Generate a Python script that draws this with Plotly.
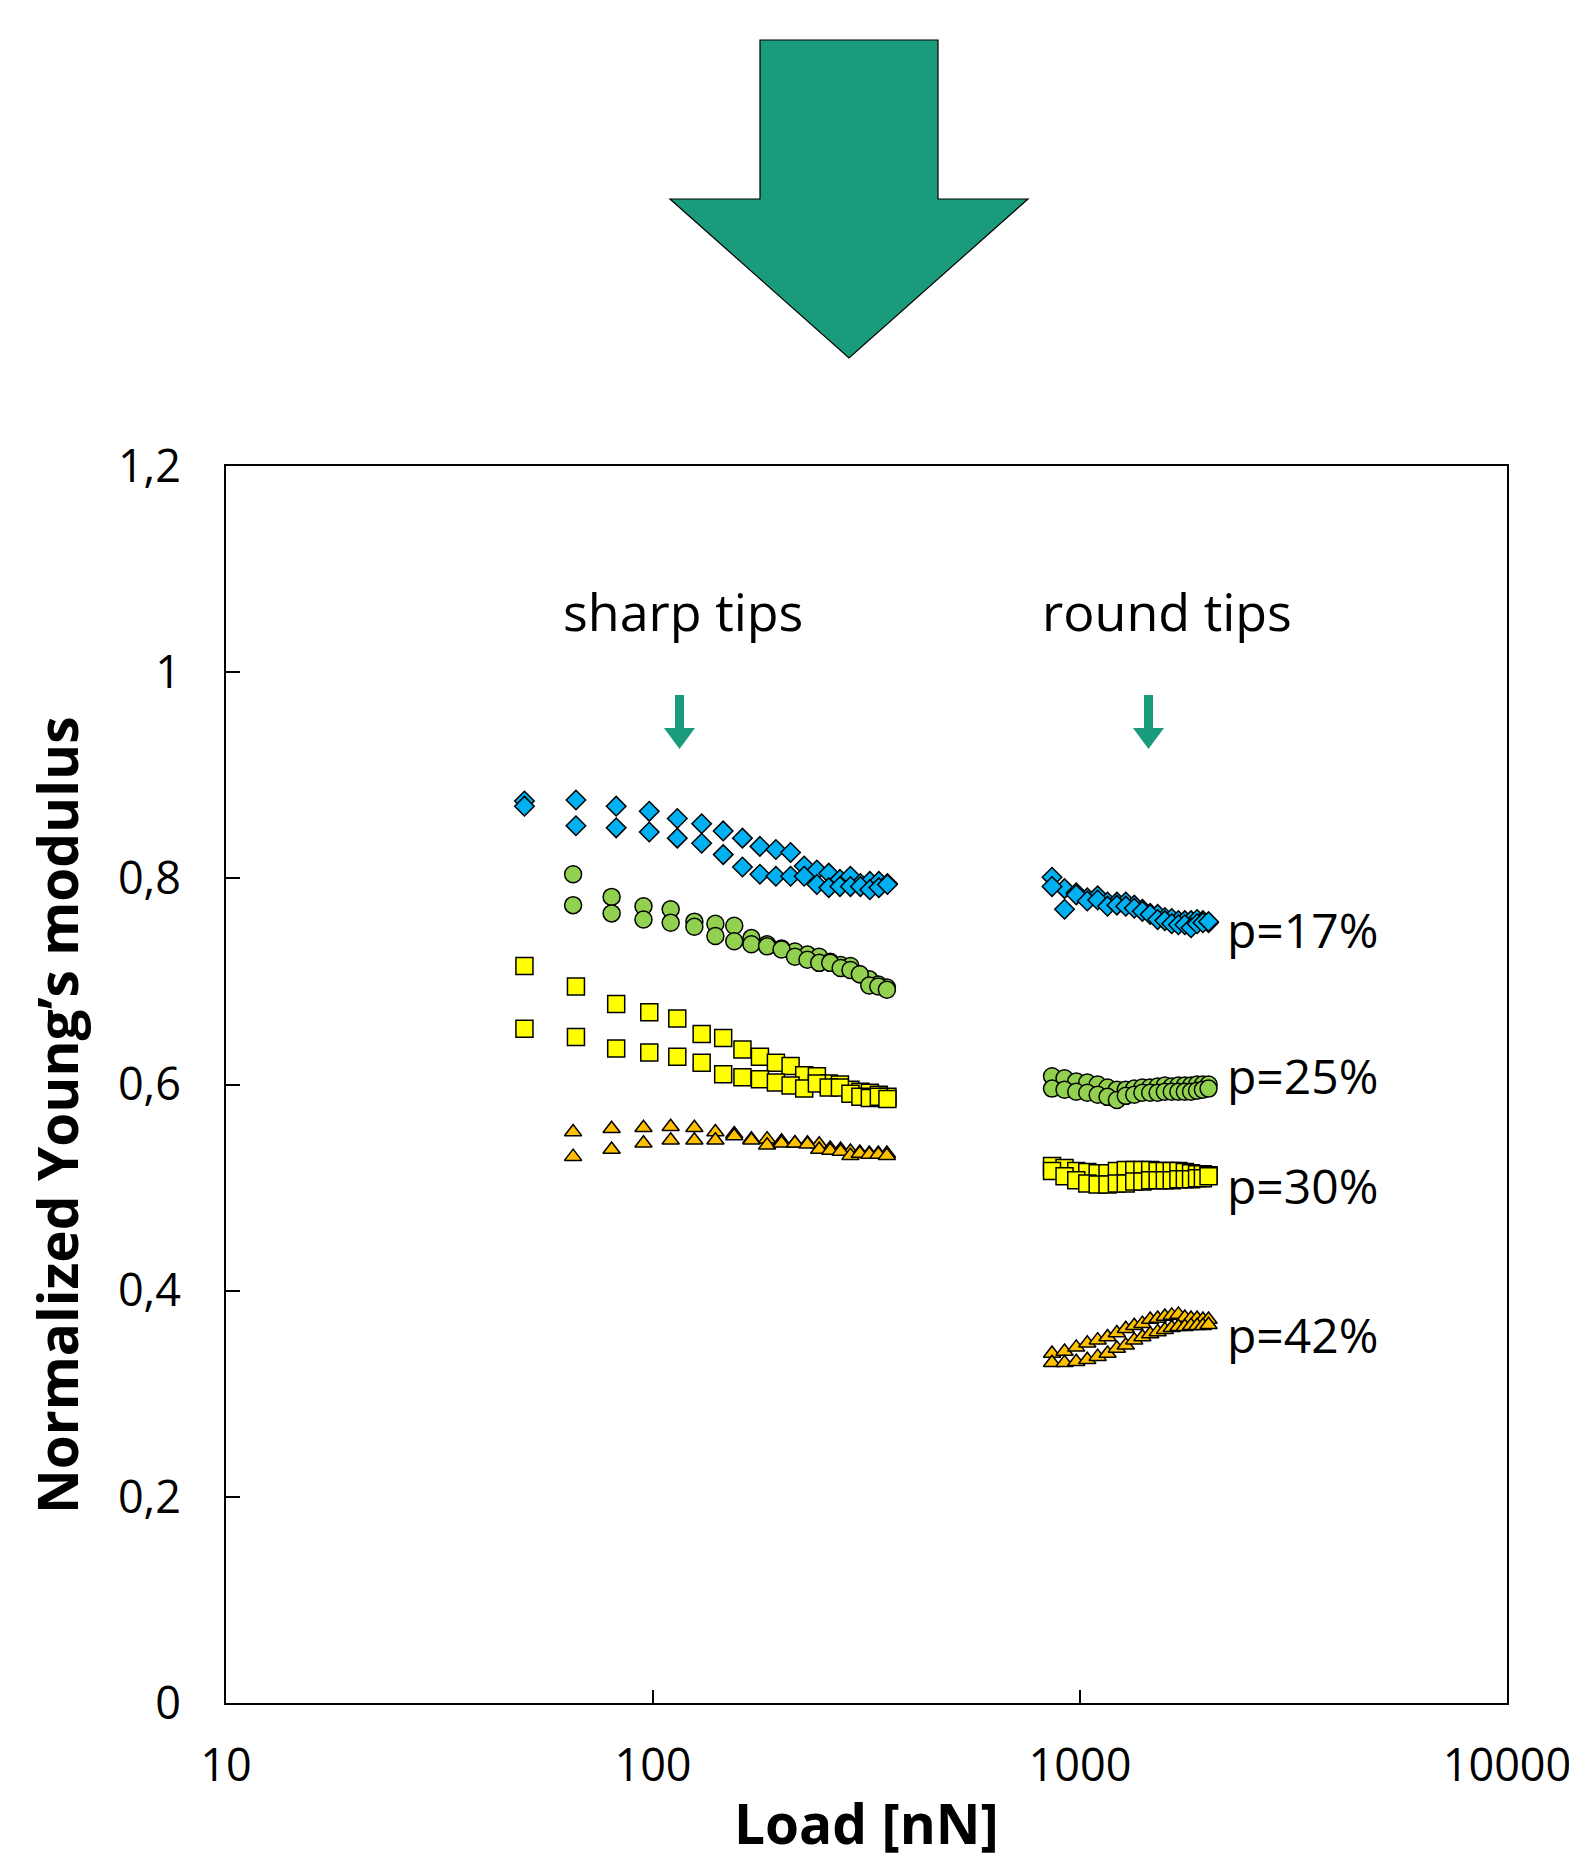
import plotly.graph_objects as go

# ---------------- data ----------------
# sharp tips (two measurement runs per porosity)
sharp_x16 = [50, 66, 82, 98, 114, 130, 146, 162, 178, 194, 210, 226, 242, 258, 274, 290, 306, 322, 338, 354]
sharp_x15 = [65, 80, 95, 110, 125, 140, 155, 170, 185, 200, 215, 230, 245, 260, 275, 290, 305, 321, 337, 353]

p17_sharp_a = [0.875, 0.876, 0.870, 0.865, 0.858, 0.853, 0.846, 0.839, 0.831, 0.828, 0.825, 0.812, 0.808, 0.805, 0.799, 0.802, 0.795, 0.797, 0.797, 0.795]
p17_sharp_b = [0.870, 0.851, 0.849, 0.845, 0.839, 0.834, 0.823, 0.811, 0.804, 0.802, 0.802, 0.802, 0.794, 0.791, 0.792, 0.792, 0.792, 0.789, 0.791, 0.794]

p25_sharp_a = [0.804, 0.782, 0.773, 0.770, 0.758, 0.756, 0.754, 0.742, 0.736, 0.732, 0.729, 0.726, 0.724, 0.719, 0.716, 0.715, 0.707, 0.702, 0.697, 0.694]
p25_sharp_b = [0.774, 0.766, 0.760, 0.757, 0.753, 0.744, 0.739, 0.736, 0.734, 0.731, 0.724, 0.721, 0.718, 0.718, 0.713, 0.711, 0.707, 0.696, 0.695, 0.692]

p30_sharp_a = [0.715, 0.695, 0.678, 0.670, 0.664, 0.649, 0.645, 0.634, 0.627, 0.621, 0.618, 0.609, 0.608, 0.601, 0.600, 0.595, 0.593, 0.592, 0.590, 0.588]
p30_sharp_b = [0.654, 0.646, 0.635, 0.631, 0.627, 0.621, 0.610, 0.607, 0.605, 0.602, 0.599, 0.596, 0.601, 0.597, 0.597, 0.591, 0.588, 0.587, 0.588, 0.586]

p42_sharp_a = [0.554, 0.557, 0.558, 0.559, 0.558, 0.554, 0.552, 0.547, 0.547, 0.545, 0.543, 0.543, 0.542, 0.538, 0.537, 0.535, 0.534, 0.533, 0.533, 0.533]
p42_sharp_b = [0.530, 0.537, 0.543, 0.546, 0.546, 0.546, 0.550, 0.546, 0.541, 0.543, 0.543, 0.542, 0.537, 0.536, 0.535, 0.531, 0.533, 0.532, 0.532, 0.531]

# round tips
round_x = [860, 920, 980, 1040, 1100, 1160, 1220, 1280, 1340, 1400, 1460, 1520, 1580, 1640, 1700, 1760, 1820, 1880, 1940, 2000]

p17_round_a = [0.801, 0.790, 0.786, 0.781, 0.783, 0.777, 0.777, 0.777, 0.774, 0.770, 0.766, 0.765, 0.762, 0.761, 0.759, 0.759, 0.759, 0.760, 0.759, 0.757]
p17_round_b = [0.792, 0.770, 0.784, 0.778, 0.779, 0.773, 0.774, 0.773, 0.771, 0.768, 0.765, 0.760, 0.759, 0.756, 0.755, 0.755, 0.752, 0.756, 0.757, 0.758]

p25_round_a = [0.608, 0.606, 0.603, 0.602, 0.600, 0.597, 0.595, 0.595, 0.596, 0.597, 0.597, 0.598, 0.599, 0.598, 0.599, 0.599, 0.599, 0.600, 0.600, 0.600]
p25_round_b = [0.596, 0.595, 0.593, 0.592, 0.590, 0.588, 0.585, 0.589, 0.590, 0.592, 0.592, 0.592, 0.593, 0.593, 0.593, 0.593, 0.593, 0.594, 0.595, 0.596]

p30_round_a = [0.521, 0.519, 0.516, 0.515, 0.514, 0.514, 0.516, 0.517, 0.517, 0.517, 0.517, 0.516, 0.516, 0.516, 0.516, 0.515, 0.514, 0.513, 0.513, 0.512]
p30_round_b = [0.516, 0.511, 0.507, 0.504, 0.503, 0.503, 0.504, 0.504, 0.506, 0.506, 0.507, 0.507, 0.507, 0.507, 0.508, 0.508, 0.508, 0.509, 0.509, 0.511]

p42_round_a = [0.339, 0.341, 0.345, 0.349, 0.352, 0.355, 0.359, 0.363, 0.366, 0.368, 0.372, 0.373, 0.375, 0.376, 0.377, 0.374, 0.373, 0.373, 0.372, 0.372]
p42_round_b = [0.330, 0.330, 0.331, 0.333, 0.336, 0.339, 0.344, 0.347, 0.352, 0.355, 0.358, 0.360, 0.362, 0.364, 0.365, 0.365, 0.366, 0.366, 0.366, 0.367]

y_tickvals = [0, 0.2, 0.4, 0.6, 0.8, 1.0, 1.2]
y_ticktext = ["0", "0,2", "0,4", "0,6", "0,8", "1", "1,2"]
x_tickvals = [10, 100, 1000, 10000]
x_ticktext = ["10", "100", "1000", "10000"]

porosity_labels = ["p=17%", "p=25%", "p=30%", "p=42%"]

# ---------------- styling ----------------
W, H = 1569, 1861
L, R, T, B = 226, 1507, 466, 1703  # plot area in pixels
PW, PH = R - L, B - T
FONT = "Open Sans, Noto Sans, DejaVu Sans, sans-serif"
TEAL = "#1a9c7c"

def px(x):
    return (x - L) / PW

def py(y):
    return (B - y) / PH

styles = {
    "p17": dict(symbol="diamond", color="#00b0f0", size=15),
    "p25": dict(symbol="circle", color="#92d050", size=17),
    "p30": dict(symbol="square", color="#ffff00", size=17),
    "p42": dict(symbol="triangle-up", color="#ffc000", size=15),
}

series = [
    ("p42", sharp_x15, p42_sharp_a), ("p42", sharp_x15, p42_sharp_b),
    ("p42", round_x, p42_round_a), ("p42", round_x, p42_round_b),
    ("p30", sharp_x16, p30_sharp_a), ("p30", sharp_x16, p30_sharp_b),
    ("p30", round_x, p30_round_a), ("p30", round_x, p30_round_b),
    ("p25", sharp_x15, p25_sharp_a), ("p25", sharp_x15, p25_sharp_b),
    ("p25", round_x, p25_round_a), ("p25", round_x, p25_round_b),
    ("p17", sharp_x16, p17_sharp_a), ("p17", sharp_x16, p17_sharp_b),
    ("p17", round_x, p17_round_a), ("p17", round_x, p17_round_b),
]

fig = go.Figure()
for key, xs, ys in series:
    st = styles[key]
    fig.add_trace(go.Scatter(
        x=xs, y=ys, mode="markers", showlegend=False, hoverinfo="skip",
        marker=dict(symbol=st["symbol"], color=st["color"], size=st["size"],
                    line=dict(color="black", width=1.5)),
    ))

# ---------------- decorations ----------------
def poly(points):
    return "M " + " L ".join(f"{px(x):.5f},{py(y):.5f}" for x, y in points) + " Z"

big_arrow = [(760, 40), (938, 40), (938, 199), (1028, 199), (849, 358), (670, 199), (760, 199)]
shapes = [dict(type="path", xref="paper", yref="paper", path=poly(big_arrow),
               fillcolor=TEAL, line=dict(color="black", width=1.2), layer="above")]

def small_arrow(cx):
    return [(cx - 4.5, 695), (cx + 4.5, 695), (cx + 4.5, 728), (cx + 15.5, 728),
            (cx, 749), (cx - 15.5, 728), (cx - 4.5, 728)]

for cx in (679.5, 1148.5):
    shapes.append(dict(type="path", xref="paper", yref="paper", path=poly(small_arrow(cx)),
                       fillcolor=TEAL, line=dict(width=0), layer="above"))

annotations = [
    dict(text="sharp tips", x=px(683), y=py(610), xref="paper", yref="paper",
         xanchor="center", yanchor="middle", showarrow=False,
         font=dict(family=FONT, size=52, color="black")),
    dict(text="round tips", x=px(1167), y=py(610), xref="paper", yref="paper",
         xanchor="center", yanchor="middle", showarrow=False,
         font=dict(family=FONT, size=52, color="black")),
]
for label, yc in zip(porosity_labels, [929, 1075, 1185, 1334]):
    annotations.append(dict(text=label, x=px(1225), y=py(yc), xref="paper", yref="paper",
                            xanchor="left", yanchor="middle", showarrow=False,
                            font=dict(family=FONT, size=48, color="black")))

annotations.append(dict(text="<b>Normalized Young’s modulus</b>", x=px(56), y=py(1115),
                        xref="paper", yref="paper", xanchor="center", yanchor="middle",
                        textangle=-90, showarrow=False,
                        font=dict(family=FONT, size=55, color="black")))
annotations.append(dict(text="<b>Load [nN]</b>", x=px(866), y=py(1822),
                        xref="paper", yref="paper", xanchor="center", yanchor="middle",
                        showarrow=False, font=dict(family=FONT, size=55, color="black")))

fig.update_layout(
    width=W, height=H,
    margin=dict(l=L, r=W - R, t=T, b=H - B, pad=0, autoexpand=False),
    paper_bgcolor="white", plot_bgcolor="white",
    font=dict(family=FONT, color="black"),
    shapes=shapes, annotations=annotations,
    xaxis=dict(type="log", range=[1, 4], tickvals=x_tickvals, ticktext=x_ticktext,
               ticks="inside", ticklen=13, tickwidth=1.5, tickcolor="black",
               showline=True, linewidth=2, linecolor="black", mirror=True,
               showgrid=False, zeroline=False, ticklabelstandoff=22,
               ticklabeloverflow="allow", automargin=False,
               tickfont=dict(family=FONT, size=45, color="black")),
    yaxis=dict(range=[0, 1.2], tickvals=y_tickvals, ticktext=y_ticktext,
               ticks="inside", ticklen=14, tickwidth=1.5, tickcolor="black",
               showline=True, linewidth=2, linecolor="black", mirror=True,
               showgrid=False, zeroline=False, ticklabelstandoff=34,
               ticklabeloverflow="allow", automargin=False,
               tickfont=dict(family=FONT, size=45, color="black")),
)

fig.write_html("out.html", config={"displayModeBar": False},
               post_script="document.body.style.margin='0';document.body.style.overflow='hidden';")
